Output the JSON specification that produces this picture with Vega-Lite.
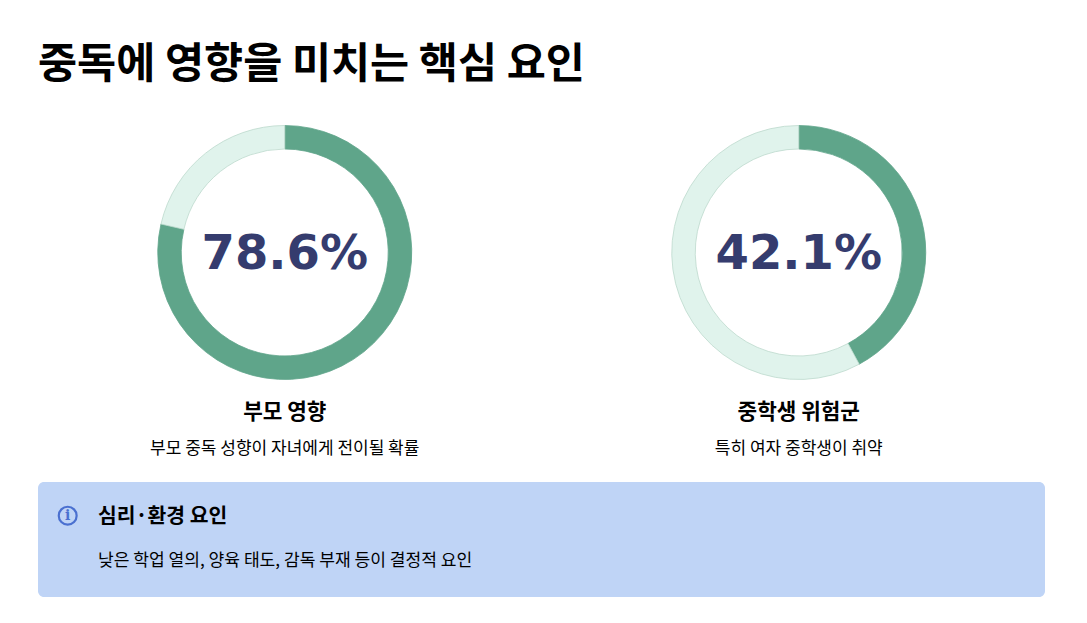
{"$schema":"https://vega.github.io/schema/vega-lite/v6.json","background":"#ffffff","padding":{"left":38,"top":43,"right":0,"bottom":0},"title":{"text":"중독에 영향을 미치는 핵심 요인","anchor":"start","frame":"group","font":"Noto Sans CJK KR","fontSize":42.5,"fontWeight":700,"color":"#000000","offset":35},"config":{"view":{"stroke":null},"font":"Noto Sans CJK KR"},"datasets":{"rings":[{"panel":"부모 영향","segment":"해당","share":0.786,"rank":1},{"panel":"부모 영향","segment":"나머지","share":0.214,"rank":2},{"panel":"중학생 위험군","segment":"해당","share":0.421,"rank":1},{"panel":"중학생 위험군","segment":"나머지","share":0.579,"rank":2}],"notes":[{"role":"icon","text":"i"},{"role":"head","text":"심리·환경 요인"},{"role":"body","text":"낮은 학업 열의, 양육 태도, 감독 부재 등이 결정적 요인"}]},"vconcat":[{"hconcat":[{"width":493.5,"height":263,"title":{"text":"부모 영향","subtitle":"부모 중독 성향이 자녀에게 전이될 확률","orient":"bottom","anchor":"middle","font":"Noto Sans CJK KR","fontSize":21.3,"fontWeight":700,"color":"#000000","subtitleFont":"Noto Sans CJK KR","subtitleFontSize":17,"subtitleColor":"#000000","subtitlePadding":18,"offset":18},"data":{"name":"rings"},"transform":[{"filter":"datum.panel === '부모 영향'"}],"layer":[{"mark":{"type":"arc","radius":127,"radius2":103.5,"strokeWidth":0.8},"encoding":{"theta":{"field":"share","type":"quantitative","stack":true},"order":{"field":"rank","type":"ordinal"},"fill":{"field":"segment","type":"nominal","legend":null,"scale":{"domain":["해당","나머지"],"range":["#5fa58a","#e0f3ec"]}},"stroke":{"field":"segment","type":"nominal","legend":null,"scale":{"domain":["해당","나머지"],"range":["#5fa58a","#bcd9cd"]}}}},{"transform":[{"filter":"datum.rank === 1"}],"mark":{"type":"text","font":"DejaVu Sans","fontSize":48,"fontWeight":700,"dy":2,"color":"#353c6e","align":"center","baseline":"middle"},"encoding":{"text":{"field":"share","type":"quantitative","format":".1%"}}}]},{"width":493.5,"height":263,"title":{"text":"중학생 위험군","subtitle":"특히 여자 중학생이 취약","orient":"bottom","anchor":"middle","font":"Noto Sans CJK KR","fontSize":21.3,"fontWeight":700,"color":"#000000","subtitleFont":"Noto Sans CJK KR","subtitleFontSize":17,"subtitleColor":"#000000","subtitlePadding":18,"offset":18},"data":{"name":"rings"},"transform":[{"filter":"datum.panel === '중학생 위험군'"}],"layer":[{"mark":{"type":"arc","radius":127,"radius2":103.5,"strokeWidth":0.8},"encoding":{"theta":{"field":"share","type":"quantitative","stack":true},"order":{"field":"rank","type":"ordinal"},"fill":{"field":"segment","type":"nominal","legend":null,"scale":{"domain":["해당","나머지"],"range":["#5fa58a","#e0f3ec"]}},"stroke":{"field":"segment","type":"nominal","legend":null,"scale":{"domain":["해당","나머지"],"range":["#5fa58a","#bcd9cd"]}}}},{"transform":[{"filter":"datum.rank === 1"}],"mark":{"type":"text","font":"DejaVu Sans","fontSize":48,"fontWeight":700,"dy":2,"color":"#353c6e","align":"center","baseline":"middle"},"encoding":{"text":{"field":"share","type":"quantitative","format":".1%"}}}]}],"spacing":20},{"width":1007,"height":115,"view":{"fill":"#bfd4f6","cornerRadius":6,"stroke":null},"data":{"name":"notes"},"layer":[{"transform":[{"filter":"datum.role === 'icon'"}],"mark":{"type":"point","filled":false,"stroke":"#4a70d0","strokeWidth":2.2,"size":320,"opacity":1},"encoding":{"x":{"value":29.7},"y":{"value":33.7}}},{"transform":[{"filter":"datum.role === 'icon'"}],"mark":{"type":"text","font":"DejaVu Serif","fontSize":14,"fontWeight":700,"color":"#4a70d0","align":"center","baseline":"middle"},"encoding":{"x":{"value":29.7},"y":{"value":33.7},"text":{"field":"text"}}},{"transform":[{"filter":"datum.role === 'head'"}],"mark":{"type":"text","fontSize":20.4,"fontWeight":700,"color":"#000000","align":"left","baseline":"middle"},"encoding":{"x":{"value":60},"y":{"value":35},"text":{"field":"text"}}},{"transform":[{"filter":"datum.role === 'body'"}],"mark":{"type":"text","fontSize":17.1,"color":"#000000","align":"left","baseline":"middle"},"encoding":{"x":{"value":60},"y":{"value":79},"text":{"field":"text"}}}]}],"spacing":24}
